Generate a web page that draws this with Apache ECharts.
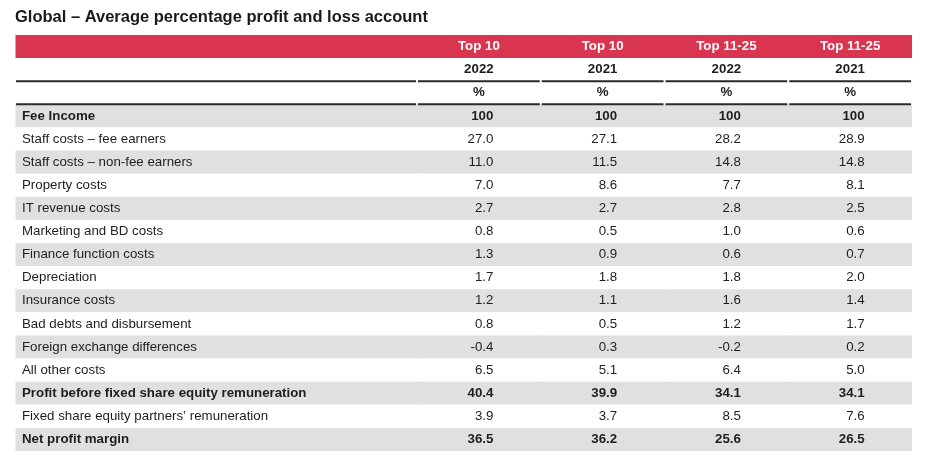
<!DOCTYPE html>
<html><head><meta charset="utf-8">
<script src="https://cdn.jsdelivr.net/npm/echarts@6/dist/echarts.min.js"></script>
<style>html,body{margin:0;padding:0;background:#fff}#c{width:935px;height:467px}</style>
</head><body><div id="c"></div>
<script>
const titleText = 'Global – Average percentage profit and loss account';
const groupHeaders = ['Top 10', 'Top 10', 'Top 11-25', 'Top 11-25'];
const yearHeaders = ['2022', '2021', '2022', '2021'];
const unitHeaders = ['%', '%', '%', '%'];
const rowLabels = [
  'Fee Income',
  'Staff costs – fee earners',
  'Staff costs – non-fee earners',
  'Property costs',
  'IT revenue costs',
  'Marketing and BD costs',
  'Finance function costs',
  'Depreciation',
  'Insurance costs',
  'Bad debts and disbursement',
  'Foreign exchange differences',
  'All other costs',
  'Profit before fixed share equity remuneration',
  'Fixed share equity partners’ remuneration',
  'Net profit margin'
];
const top10_2022   = [100, 27.0, 11.0, 7.0, 2.7, 0.8, 1.3, 1.7, 1.2, 0.8, -0.4, 6.5, 40.4, 3.9, 36.5];
const top10_2021   = [100, 27.1, 11.5, 8.6, 2.7, 0.5, 0.9, 1.8, 1.1, 0.5, 0.3, 5.1, 39.9, 3.7, 36.2];
const top1125_2022 = [100, 28.2, 14.8, 7.7, 2.8, 1.0, 0.6, 1.8, 1.6, 1.2, -0.2, 6.4, 34.1, 8.5, 25.6];
const top1125_2021 = [100, 28.9, 14.8, 8.1, 2.5, 0.6, 0.7, 2.0, 1.4, 1.7, 0.2, 5.0, 34.1, 7.6, 26.5];
const boldRows = ['Fee Income', 'Profit before fixed share equity remuneration', 'Net profit margin'];

const columns = [top10_2022, top10_2021, top1125_2022, top1125_2021];
const headerCats = ['__group', '__year', '__unit'];
const rowCats = headerCats.concat(rowLabels);
const NH = headerCats.length;

const FONT = '"Liberation Sans", Arial, Helvetica, sans-serif';
const FS = 13.3;
const RED = '#d93550';
const GRAY = '#e0e0e0';
const TXT = '#1e1e1e';
const LINE = '#2a2a2a';

function fmt(v, i) { return i === 0 ? String(v) : v.toFixed(1); }
function bg(r) {
  if (r === 0) return RED;
  if (r < NH) return '#ffffff';
  return ((r - NH) % 2 === 0) ? GRAY : '#ffffff';
}
function cellBox(api) {
  const c = api.coord([api.value(0), api.value(1)]);
  const s = api.size([1, 1]);
  return { cx: c[0], cy: c[1], x: c[0] - s[0] / 2, y: c[1] - s[1] / 2, w: s[0], h: s[1] };
}
function bgRect(b, r, lastCol) {
  return {
    type: 'rect',
    shape: { x: b.x - 0.5, y: b.y, width: b.w + (lastCol ? 0.5 : 1.5), height: b.h },
    style: { fill: bg(r) },
    z2: 0
  };
}
function lineUnder(b, r, inset) {
  if (r !== 1 && r !== 2) return null;
  return {
    type: 'line',
    shape: { x1: b.x + inset, y1: b.y + b.h, x2: b.x + b.w - 1, y2: b.y + b.h },
    style: { stroke: LINE, lineWidth: 2 },
    z2: 5
  };
}

function renderLabelCol(params, api) {
  const r = api.value(1);
  const b = cellBox(api);
  const children = [bgRect(b, r, false)];
  if (r >= NH) {
    const lab = rowLabels[r - NH];
    children.push({
      type: 'text',
      z2: 10,
      style: {
        x: b.x + 6, y: b.cy, text: lab, align: 'left', verticalAlign: 'middle',
        fill: TXT, font: (boldRows.indexOf(lab) >= 0 ? 'bold ' : '') + FS + 'px ' + FONT
      }
    });
  }
  const ln = lineUnder(b, r, 0);
  if (ln) children.push(ln);
  return { type: 'group', children: children };
}

function renderValueCol(params, api) {
  const c = api.value(0);
  const r = api.value(1);
  const b = cellBox(api);
  const children = [bgRect(b, r, c === columns.length - 1)];
  let text, align = 'center', x = b.cx, bold = true, fill = TXT;
  if (r === 0) { text = groupHeaders[c]; fill = '#ffffff'; }
  else if (r === 1) { text = yearHeaders[c]; }
  else if (r === 2) { text = unitHeaders[c]; }
  else {
    const i = r - NH;
    text = fmt(columns[c][i], i);
    align = 'right';
    x = b.cx + 14.5;
    bold = boldRows.indexOf(rowLabels[i]) >= 0;
  }
  children.push({
    type: 'text',
    z2: 10,
    style: {
      x: x, y: b.cy, text: text, align: align, verticalAlign: 'middle',
      fill: fill, font: (bold ? 'bold ' : '') + FS + 'px ' + FONT
    }
  });
  const ln = lineUnder(b, r, 1);
  if (ln) children.push(ln);
  return { type: 'group', children: children };
}

const labelData = rowCats.map((_, r) => [0, r]);
const valueData = [];
for (let r = 0; r < rowCats.length; r++) {
  for (let c = 0; c < columns.length; c++) valueData.push([c, r]);
}

const chart = echarts.init(document.getElementById('c'), null, { renderer: 'canvas' });
chart.setOption({
  animation: false,
  backgroundColor: '#ffffff',
  title: {
    text: titleText, left: 10, top: 4,
    textStyle: { fontFamily: FONT, fontSize: 16.5, fontWeight: 'bold', color: '#1a1a1a' }
  },
  grid: [
    { left: 16, width: 401, top: 35, bottom: 16 },
    { left: 417, right: 23, top: 35, bottom: 16 }
  ],
  xAxis: [
    { type: 'category', gridIndex: 0, data: [''], show: false },
    { type: 'category', gridIndex: 1, data: groupHeaders.map((g, i) => g + ' ' + yearHeaders[i]), show: false }
  ],
  yAxis: [
    { type: 'category', gridIndex: 0, data: rowCats, inverse: true, show: false },
    { type: 'category', gridIndex: 1, data: rowCats, inverse: true, show: false }
  ],
  series: [
    { type: 'custom', xAxisIndex: 0, yAxisIndex: 0, data: labelData, renderItem: renderLabelCol, clip: false, silent: true, z: 1 },
    { type: 'custom', xAxisIndex: 1, yAxisIndex: 1, data: valueData, renderItem: renderValueCol, clip: false, silent: true, z: 2 }
  ]
});
</script>
</body></html>
